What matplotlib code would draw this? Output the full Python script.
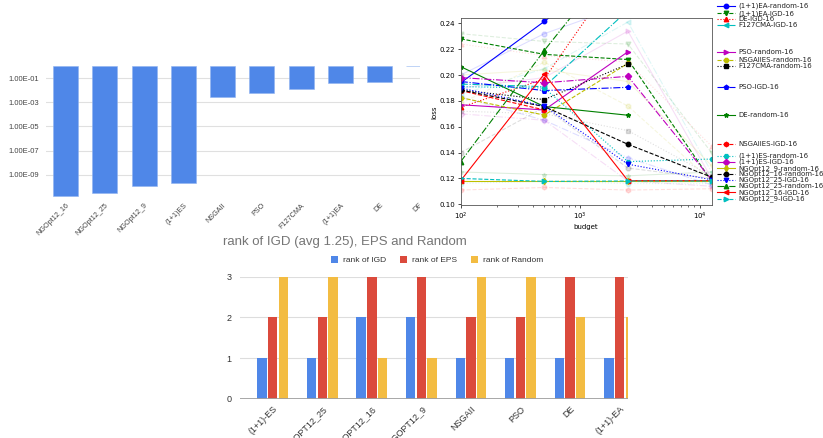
import numpy as np
import matplotlib
matplotlib.use('Agg')
import matplotlib.pyplot as plt
from matplotlib.lines import Line2D
from matplotlib.transforms import Bbox, TransformedBbox
from matplotlib.ticker import FixedLocator, FuncFormatter, NullLocator

W, H = 823, 438
nan = np.nan

# --- top-left: IGD values (log scale), bars hang from 1
igd_methods = ["NGOpt12_16", "NGOpt12_25", "NGOpt12_9", "(1+1)ES", "NSGAII",
               "PSO", "F127CMA", "(1+1)EA", "DE", "DE"]
igd_values = [1.8e-11, 2.9e-11, 1.1e-10, 2.0e-10, 2.7e-3,
              6.1e-3, 1.3e-2, 4.1e-2, 5.0e-2, 1.0]
igd_base = 1.0

# --- top-right: loss vs budget curves
budgets = [100, 500, 2500, 12500]
curve_names = ["(1+1)EA-random-16", "(1+1)EA-IGD-16", "DE-IGD-16", "F127CMA-IGD-16",
               "PSO-random-16", "NSGAIIES-random-16", "F127CMA-random-16", "PSO-IGD-16",
               "DE-random-16", "NSGAIIES-IGD-16", "(1+1)ES-random-16", "(1+1)ES-IGD-16",
               "NGOpt12_9-random-16", "NGOpt12_16-random-16", "NGOpt12_25-IGD-16",
               "NGOpt12_25-random-16", "NGOpt12_16-IGD-16", "NGOpt12_9-IGD-16"]
curve_losses = [
    [0.194, 0.2415, 0.290, nan],
    [0.228, 0.216, 0.212, 0.118],
    [0.175, 0.197, 0.290, nan],
    [0.193, 0.191, 0.250, nan],
    [0.177, 0.173, 0.218, nan],
    [0.1825, 0.169, 0.209, nan],
    [0.1884, 0.181, 0.2085, nan],
    [0.195, 0.188, 0.1905, nan],
    [0.2065, 0.1756, 0.1689, nan],
    [0.188, 0.173, nan, nan],
    [0.191, 0.190, 0.133, 0.135],
    [0.198, 0.194, 0.199, 0.119],
    [0.118, 0.118, 0.118, 0.118],
    [0.1884, 0.1756, 0.1464, 0.121],
    [0.190, 0.176, 0.131, 0.119],
    [0.133, 0.219, 0.300, nan],
    [0.1183, 0.2008, 0.1183, 0.1183],
    [0.120, 0.1177, 0.118, 0.118],
]
# other (unlabelled, faded) runs
faint_losses = [
    [0.200, 0.232, 0.255, nan],
    [0.232, 0.226, 0.224, 0.140],
    [0.224, 0.215, 0.210, 0.145],
    [0.185, 0.205, 0.241, 0.125],
    [0.190, 0.198, 0.234, 0.120],
    [0.178, 0.210, 0.176, 0.118],
    [0.172, 0.170, 0.157, 0.122],
    [0.183, 0.165, 0.136, 0.115],
    [0.125, 0.123, 0.122, 0.125],
    [0.111, 0.113, 0.111, 0.112],
    [0.116, 0.118, 0.116, 0.116],
    [0.170, 0.165, 0.118, 0.114],
    [0.200, 0.204, 0.195, 0.130],
    [0.140, 0.175, 0.128, 0.120],
]

# --- bottom: ranks
rank_methods = ["(1+1)-ES", "NGOPT12_25", "NGOPT12_16", "NGOPT12_9",
                "NSGAII", "PSO", "DE", "(1+1)-EA"]
rank_igd = [1, 1, 2, 2, 1, 1, 1, 1]
rank_eps = [2, 2, 3, 3, 2, 2, 3, 3]
rank_random = [3, 3, 1, 1, 3, 3, 2, 2]

g_blue, g_red, g_yellow = '#4f87e8', '#db4a3c', '#f3bc42'
gfont = ['Liberation Sans', 'DejaVu Sans']

colors = "bgrcmyk"
lstyles = ["-", "--", ":", "-."]
markers = ['o', 'v', '^', '<', '>', '8', 's', 'p', '*', 'h', 'H', 'D', 'd']

fig = plt.figure(figsize=(W / 100, H / 100), dpi=100)


def px_axes(l, t, r, b):
    return fig.add_axes([l / W, 1 - b / H, (r - l) / W, (b - t) / H])


# ================= top-left
ax1 = px_axes(46, 66, 420, 199)
x1 = np.arange(len(igd_methods))
ax1.bar(x1, np.array(igd_values) - igd_base, bottom=igd_base, width=0.64,
        color=g_blue, edgecolor='#8fb2f0', linewidth=0.4, zorder=2)
ax1.set_yscale('log')
ax1.set_ylim(1e-11, 1.0)
ax1.set_xlim(-0.5, 9.03)
ax1.yaxis.set_major_locator(FixedLocator([1e-1, 1e-3, 1e-5, 1e-7, 1e-9]))
ax1.yaxis.set_minor_locator(NullLocator())
ax1.yaxis.set_major_formatter(FuncFormatter(lambda v, p: f"{v:.2E}"))
ax1.grid(axis='y', color='#e0e0e0', lw=0.8, zorder=0)
for s in ax1.spines.values():
    s.set_visible(False)
ax1.tick_params(axis='y', length=0, labelsize=5.5, labelcolor='#444444', pad=5)
ax1.tick_params(axis='x', length=0, pad=2)
ax1.set_xticks(x1)
ax1.set_xticklabels(igd_methods, rotation=45, ha='right', rotation_mode='anchor',
                    fontsize=5.2, color='#444444', family=gfont)
for t in ax1.get_yticklabels():
    t.set_family(gfont)
clip = TransformedBbox(Bbox([[0, 0], [420 / W, 1]]), fig.transFigure)
for t in ax1.get_xticklabels():
    t.set_clip_box(clip)
    t.set_clip_on(True)

# ================= top-right
ax2 = px_axes(460.7, 18.3, 711.5, 205.3)
for i, vals in enumerate(faint_losses):
    ax2.plot(budgets, vals, color=colors[i % 7], ls=lstyles[i % 4],
             marker=markers[i % 13], ms=3.5, lw=0.8, alpha=0.13)
for i, vals in enumerate(curve_losses):
    ax2.plot(budgets, vals, color=colors[i % 7], ls=lstyles[i % 4],
             marker=markers[i % 13], ms=3.2, lw=0.8)
ax2.set_xscale('log')
ax2.set_xlim(100, 12500)
ax2.set_ylim(0.0992, 0.2439)
ax2.set_yticks(np.arange(0.10, 0.241, 0.02))
ax2.yaxis.set_major_formatter(FuncFormatter(lambda v, p: f"{v:.2f}"))
ax2.tick_params(labelsize=5, length=2.5, width=0.5, pad=1.5)
ax2.tick_params(which='minor', length=1.5, width=0.4)
for s in ax2.spines.values():
    s.set_linewidth(0.6)
    s.set_color('#555555')
ax2.set_xlabel('budget', fontsize=5, labelpad=1.5)
ax2.set_ylabel('loss', fontsize=5, labelpad=1.5)

# legend entries placed beside the axes
legend_rows = [6, 13.3, 19, 24.7, 51.7, 60, 66, 86.7, 115, 144.3, 155.7, 161.7,
               168.3, 174, 180, 186, 192.3, 199]
for i, (name, yp) in enumerate(zip(curve_names, legend_rows)):
    yf = 1 - yp / H
    fig.add_artist(Line2D([717 / W, 726 / W, 735 / W], [yf, yf, yf],
                          transform=fig.transFigure, color=colors[i % 7],
                          ls=lstyles[i % 4], marker=markers[i % 13], ms=3.2,
                          lw=0.8, markevery=[1]))
    fig.text(738 / W, yf, name, fontsize=5, va='center', ha='left', color='#222222')

# ================= bottom
ax3 = px_axes(239.5, 276.7, 628, 398.7)
x3 = np.arange(len(rank_methods))
bw, off = 0.19, 0.216
b1 = ax3.bar(x3 - off, rank_igd, bw, color=g_blue, zorder=2, label='rank of IGD')
b2 = ax3.bar(x3, rank_eps, bw, color=g_red, zorder=2, label='rank of EPS')
b3 = ax3.bar(x3 + off, rank_random, bw, color=g_yellow, zorder=2, label='rank of Random')
ax3.set_xlim(-0.67, 7.17)
ax3.set_ylim(0, 3)
ax3.set_yticks([0, 1, 2, 3])
ax3.grid(axis='y', color='#dddddd', lw=0.8, zorder=0)
for s in ax3.spines.values():
    s.set_visible(False)
ax3.axhline(0, color='#a0a0a0', lw=1.3, zorder=3)
ax3.tick_params(axis='y', length=0, labelsize=6.5, labelcolor='#333333', pad=6)
ax3.tick_params(axis='x', length=0, labelsize=6.5, labelcolor='#333333', pad=4)
ax3.set_xticks(x3)
ax3.set_xticklabels(rank_methods, rotation=45, ha='right', rotation_mode='anchor',
                    fontsize=6.5, family=gfont)
for t in ax3.get_yticklabels():
    t.set_family(gfont)

fig.text(222.7 / W, 1 - 245 / H, 'rank of IGD (avg 1.25), EPS and Random',
         fontsize=9.5, color='#757575', family=gfont, va='baseline', ha='left')
fig.legend(handles=[b1, b2, b3], loc='center', bbox_to_anchor=(437 / W, 1 - 260 / H),
           ncol=3, frameon=False, prop={'family': gfont, 'size': 6},
           handlelength=0.9, handleheight=0.9, handletextpad=0.6, columnspacing=1.6,
           labelcolor='#333333')

fig.savefig('out.png', dpi=100)
